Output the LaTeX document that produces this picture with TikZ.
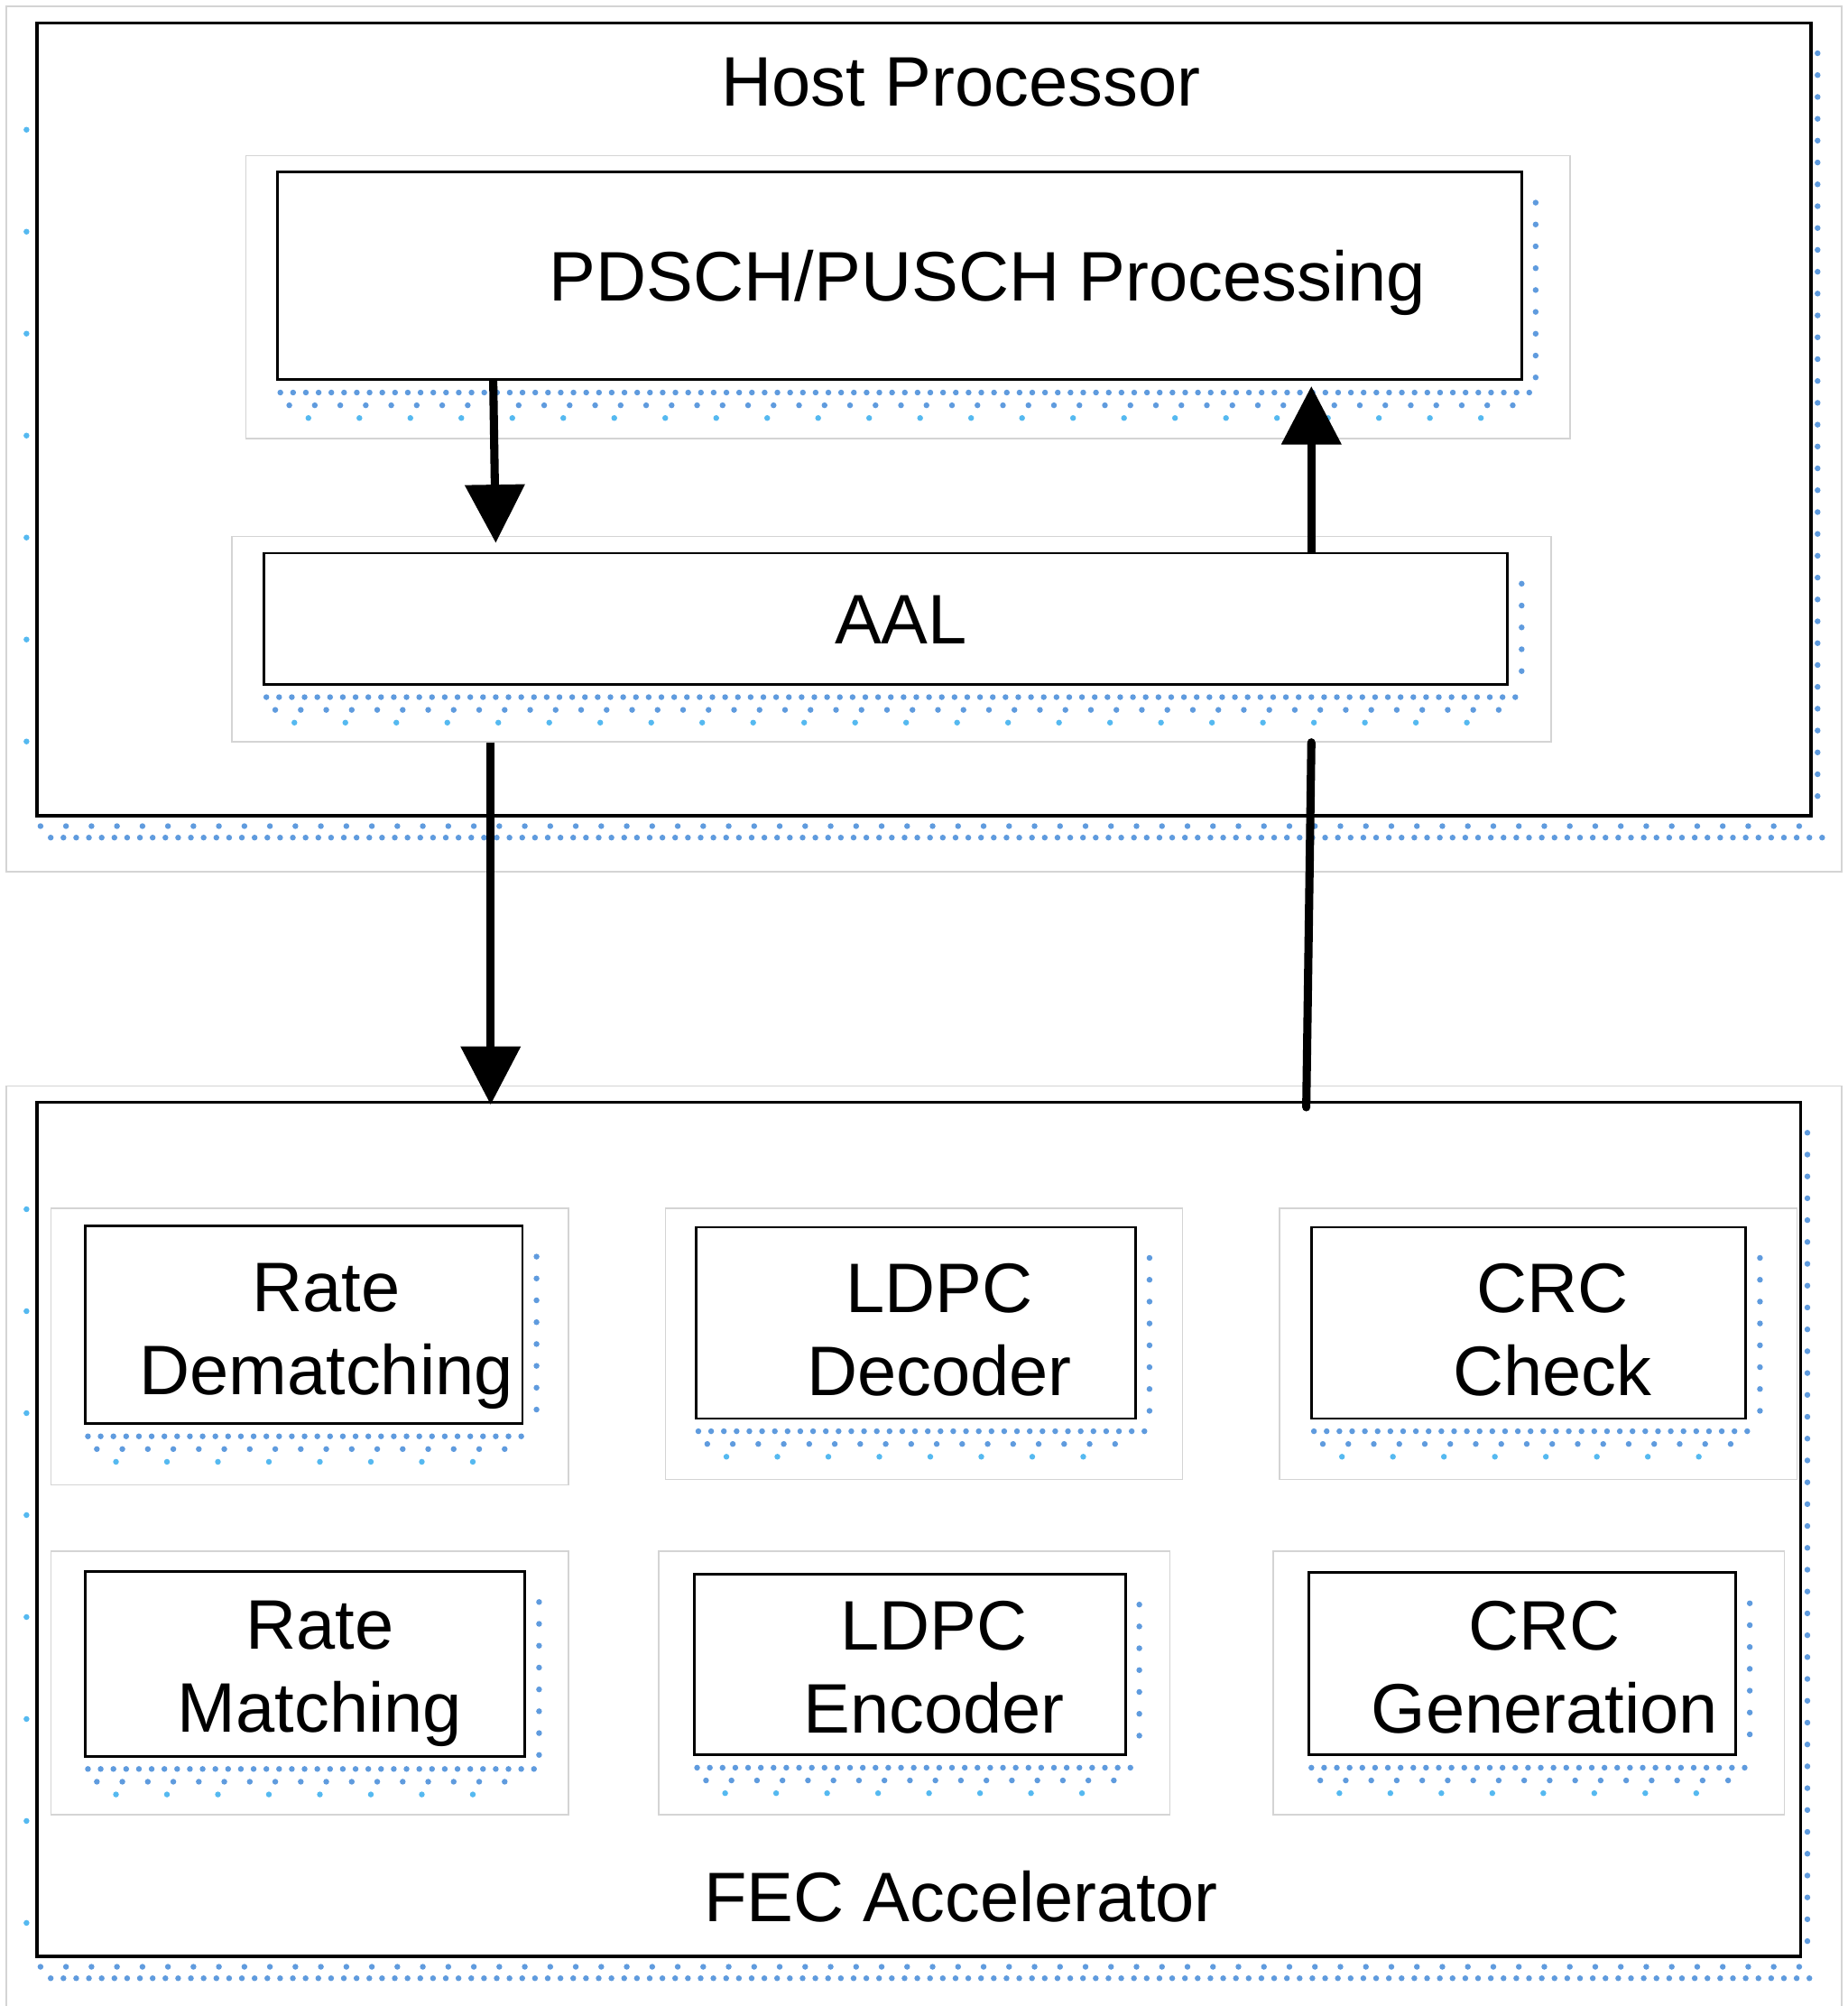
\documentclass[tikz,border=0pt]{standalone}
\usepackage{fontspec}
\setmainfont{Liberation Sans}
\usetikzlibrary{arrows.meta}
\usetikzlibrary{calc}
\usetikzlibrary{fit}
\definecolor{padgray}{RGB}{212,212,212}
\definecolor{dotblue}{RGB}{95,155,222}
\definecolor{dotcyan}{RGB}{85,185,240}

\tikzset{
  pad/.style={draw=padgray, line width=0.7pt},
  blk/.style={draw, line width=1.4pt, inner sep=0pt, fill=white},
  frame/.style={draw, line width=1.7pt, inner sep=0pt},
  txt/.style={font=\fontsize{38.5}{45.5}\selectfont, inner sep=0pt, align=center},
  dotrow/.style={dotblue, line width=3.2pt, line cap=round, dash pattern=on 0pt off 7pt},
  dotrowb/.style={dotblue, line width=3.2pt, line cap=round, dash pattern=on 0pt off 14pt},
  dotrowc/.style={dotcyan, line width=3.2pt, line cap=round, dash pattern=on 0pt off 28pt},
  dotcol/.style={dotblue, line width=3.2pt, line cap=round, dash pattern=on 0pt off 12pt},
  dotside/.style={dotcyan, line width=3.2pt, line cap=round, dash pattern=on 0pt off 56pt},
  flow/.style={line width=4.5pt, -{Triangle[length=32pt,width=32pt]}},
}

\begin{document}
\begin{tikzpicture}[x=0.7pt,y=0.7pt,yscale=-1,xscale=1]
\useasboundingbox (0,0) rectangle (1450,1574);

%Shape: light frames
\draw[pad] (5,5) rectangle (1445,684);
\draw[pad] (5,1580) -- (5,852) -- (1445,852) -- (1445,1580);
\draw[pad] (193,122) rectangle (1232,344);
\draw[pad] (40,948) rectangle (446,1165);
\draw[pad] (522,948) rectangle (928,1161);
\draw[pad] (1004,948) rectangle (1410,1161);
\draw[pad] (40,1217) rectangle (446,1424);
\draw[pad] (517,1217) rectangle (918,1424);
\draw[pad] (999,1217) rectangle (1400,1424);
\node[pad, inner sep=0pt, fit={(182,421) (1217,582)}] (aalpad) {};

%Shape: outer frames
\node[frame, fit={(29,18) (1421,640)}] (host) {};
\node[frame, fit={(29,865) (1413,1535)}] (fec) {};

%Shape: dotted shadows of the outer frames
\foreach \b in {host,fec}{
  \draw[dotrow] ($(\b.south west)+(12,16)$) -- ($(\b.south east)+(8,16)$);
  \draw[dotrowb] ($(\b.south west)+(4,7)$) -- ($(\b.south east)+(0,7)$);
  \draw[dotcol] ($(\b.north east)+(4,25)$) -- ($(\b.south east)+(4,0)$);
  \draw[dotside] ($(\b.north west)+(-7,85)$) -- ($(\b.south west)+(-7,0)$);
}

%Shape: blocks
\node[blk, fit={(218,135) (1194,298)}] (pdsch) {};
\node[blk, fit={(207,434) (1183,537)}] (aal) {};
\node[blk, fit={(67,962) (410,1117)}] (ratedm) {};
\node[blk, fit={(546,963) (891,1113)}] (ldpcdec) {};
\node[blk, fit={(1029,963) (1370,1113)}] (crcchk) {};
\node[blk, fit={(67,1233) (412,1378)}] (ratem) {};
\node[blk, fit={(545,1235) (883,1377)}] (ldpcenc) {};
\node[blk, fit={(1027,1234) (1362,1377)}] (crcgen) {};

%Shape: dotted shadows of the blocks
\foreach \b in {pdsch,aal,ratedm,ldpcdec,crcchk,ratem,ldpcenc,crcgen}{
  \draw[dotrow] ($(\b.south west)+(3,9)$) -- ($(\b.south east)+(8,9)$);
  \draw[dotrowb] ($(\b.south west)+(10,19)$) -- ($(\b.south east)+(0,19)$);
  \draw[dotrowc] ($(\b.south west)+(25,29)$) -- ($(\b.south east)+(-20,29)$);
  \draw[dotcol] ($(\b.north east)+(10,25)$) -- ($(\b.south east)+(10,0)$);
}

% Text Node
\node[txt, anchor=base] (hosttxt) at (754,83) {Host Processor};
% Text Node
\node[txt, anchor=base] (pdschtxt) at (775,236) {PDSCH/PUSCH Processing};
% Text Node
\node[txt, anchor=base] (aaltxt) at (707,505) {AAL};
% Text Node
\node[txt, anchor=base] (fectxt) at (754,1508) {FEC Accelerator};
% Text Node
\node[txt, anchor=north] (ratedmtxt) at (256,991) {Rate\\Dematching};
% Text Node
\node[txt, anchor=north] (ldpcdectxt) at (737,991) {LDPC\\Decoder};
% Text Node
\node[txt, anchor=north] (crcchktxt) at (1218,991) {CRC\\Check};
% Text Node
\node[txt, anchor=north] (ratemtxt) at (251,1256) {Rate\\Matching};
% Text Node
\node[txt, anchor=north] (ldpcenctxt) at (733,1256) {LDPC\\Encoder};
% Text Node
\node[txt, anchor=north] (crcgentxt) at (1212,1256) {CRC\\Generation};

%Arrows
\draw[flow] ($(pdsch.south -| 387,0)+(0,-2)$) -- ($(aal.north -| 389,0)+(0,-7)$);
\draw[flow] (aal.north -| 1029,0) -- ($(pdsch.south -| 1029,0)+(0,4)$);
\draw[flow] (aalpad.south -| 385,0) -- ($(fec.north -| 385,0)+(0,3)$);
\draw[line width=4.5pt, line cap=round] (aalpad.south -| 1029,0) -- ($(fec.north -| 1025,0)+(0,5)$);

\end{tikzpicture}
\end{document}
